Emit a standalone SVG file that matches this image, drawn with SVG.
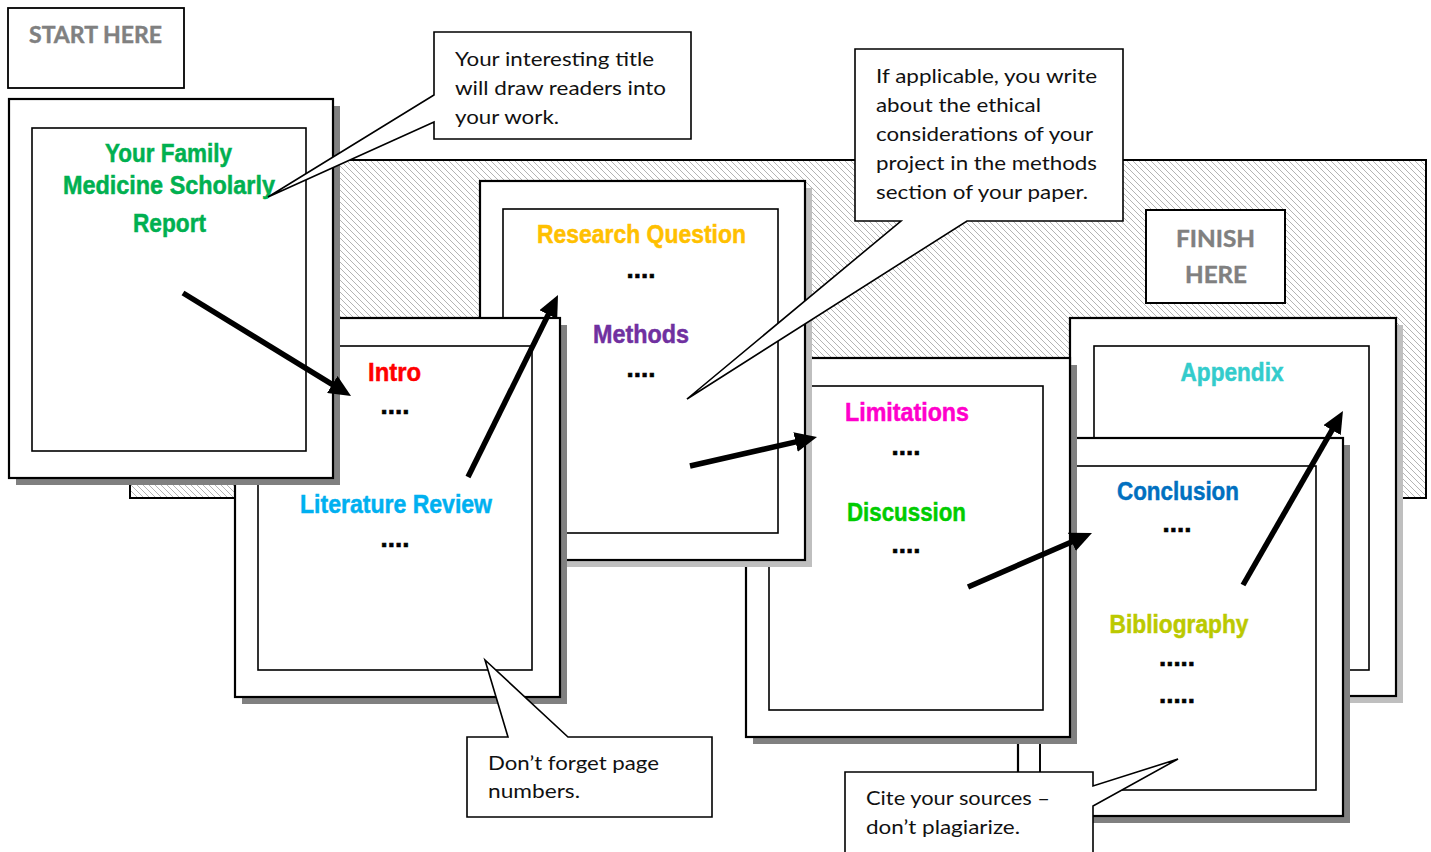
<svg xmlns="http://www.w3.org/2000/svg" width="1431" height="852" viewBox="0 0 1431 852">
<defs>
<pattern id="hatch" width="6" height="6" patternUnits="userSpaceOnUse">
<rect width="6" height="6" fill="#ffffff"/>
<path d="M-1,-1 L7,7 M-1,5 L1,7 M5,-1 L7,1" stroke="#b4b4b4" stroke-width="1"/>
</pattern>
<marker id="ah" markerUnits="userSpaceOnUse" markerWidth="22" markerHeight="20" refX="6" refY="10" orient="auto">
<path d="M0,0 L22,10 L0,20 Z" fill="#000"/>
</marker>
<style>
.outer{fill:#fff;stroke:#000;stroke-width:2.2}
.inner{fill:#fff;stroke:#000;stroke-width:1.6}
.shd{fill:#808080}
.shl{fill:#bfbfbf}
.hd{font-family:"Liberation Sans Narrow","Liberation Sans",sans-serif;font-weight:bold;font-size:26px;text-anchor:middle;fill:currentColor;stroke:currentColor;stroke-width:0.5}
.dots{font-family:"Liberation Sans",sans-serif;font-weight:bold;font-size:26px;text-anchor:middle;fill:#000;stroke:#000;stroke-width:0.6}
.co{fill:#fff;stroke:#000;stroke-width:1.6}
.ct{font-family:Lato,"Liberation Sans",sans-serif;font-size:20px;fill:#111}
.lbl{font-family:Lato,"Liberation Sans",sans-serif;font-weight:bold;font-size:22px;fill:#808080;stroke:#808080;stroke-width:0.4;text-anchor:middle}
.arr{stroke:#000;stroke-width:5.5;fill:none;marker-end:url(#ah)}
.ln{stroke:#000;stroke-width:1.6}
</style>
</defs>
<rect width="1431" height="852" fill="#fff"/>

<g id="background">
<rect x="130" y="160" width="1296" height="338" fill="url(#hatch)" stroke="#000" stroke-width="2"/>
</g>

<g id="start-label">
<rect x="8" y="8" width="176" height="80" fill="#fff" stroke="#000" stroke-width="1.8"/>
<text class="lbl" x="95.5" y="43" textLength="133" lengthAdjust="spacingAndGlyphs">START HERE</text>
</g>

<g id="finish-label">
<rect x="1146" y="210" width="139" height="93" fill="#fff" stroke="#000" stroke-width="2"/>
<text class="lbl" x="1215.5" y="247" textLength="79" lengthAdjust="spacingAndGlyphs">FINISH</text>
<text class="lbl" x="1216" y="283" textLength="62" lengthAdjust="spacingAndGlyphs">HERE</text>
</g>

<g id="appendix-page">
<rect class="shl" x="1077" y="325" width="326" height="378"/>
<rect class="outer" x="1070" y="318" width="326" height="378"/>
<rect class="inner" x="1094" y="346" width="275" height="324"/>
<text class="hd" x="1232" y="381" color="#33CCCC" textLength="103" lengthAdjust="spacingAndGlyphs">Appendix</text>
</g>

<g id="conclusion-page">
<rect class="shd" x="1025" y="445" width="325" height="378"/>
<rect class="outer" x="1018" y="438" width="325" height="378"/>
<rect class="inner" x="1040" y="466" width="276" height="324"/>
<text class="hd" x="1178" y="500" color="#0070C0" textLength="122" lengthAdjust="spacingAndGlyphs">Conclusion</text>
<text class="dots" x="1177" y="532">....</text>
<text class="hd" x="1179" y="633" color="#BBC900" textLength="139" lengthAdjust="spacingAndGlyphs">Bibliography</text>
<text class="dots" x="1177" y="666">.....</text>
<text class="dots" x="1177" y="703">.....</text>
</g>

<g id="limitations-page">
<rect class="shd" x="753" y="365" width="324" height="379"/>
<rect class="outer" x="746" y="358" width="324" height="379"/>
<rect class="inner" x="769" y="386" width="274" height="324"/>
<text class="hd" x="907" y="421" color="#FF00CC" textLength="124" lengthAdjust="spacingAndGlyphs">Limitations</text>
<text class="dots" x="906" y="455">....</text>
<text class="hd" x="906.5" y="521" color="#00CC00" textLength="119" lengthAdjust="spacingAndGlyphs">Discussion</text>
<text class="dots" x="906" y="553">....</text>
</g>

<g id="research-page">
<rect class="shl" x="487" y="188" width="325" height="379"/>
<rect class="outer" x="480" y="181" width="325" height="379"/>
<rect class="inner" x="503" y="209" width="275" height="324"/>
<text class="hd" x="641.5" y="243" color="#FFC000" textLength="209" lengthAdjust="spacingAndGlyphs">Research Question</text>
<text class="dots" x="641" y="278">....</text>
<text class="hd" x="641" y="343" color="#7030A0" textLength="96" lengthAdjust="spacingAndGlyphs">Methods</text>
<text class="dots" x="641" y="377">....</text>
</g>

<g id="literature-page">
<rect class="shd" x="242" y="325" width="325" height="379"/>
<rect class="outer" x="235" y="318" width="325" height="379"/>
<rect class="inner" x="258" y="346" width="274" height="324"/>
<text class="hd" x="394.5" y="381" color="#FF0000" textLength="53" lengthAdjust="spacingAndGlyphs">Intro</text>
<text class="dots" x="395" y="414">....</text>
<text class="hd" x="396" y="513" color="#00B0F0" textLength="192" lengthAdjust="spacingAndGlyphs">Literature Review</text>
<text class="dots" x="395" y="547">....</text>
</g>

<g id="title-page">
<rect class="shd" x="16" y="106" width="324" height="379"/>
<rect class="outer" x="9" y="99" width="324" height="379"/>
<rect class="inner" x="32" y="128" width="274" height="323"/>
<text class="hd" x="168.5" y="162" color="#00B050" textLength="127" lengthAdjust="spacingAndGlyphs">Your Family</text>
<text class="hd" x="169" y="194" color="#00B050" textLength="212" lengthAdjust="spacingAndGlyphs">Medicine Scholarly</text>
<text class="hd" x="169.5" y="232" color="#00B050" textLength="73" lengthAdjust="spacingAndGlyphs">Report</text>
</g>

<g id="edge-lines">
<line class="ln" x1="1018" y1="744" x2="1018" y2="772"/>
<line class="ln" x1="1040" y1="744" x2="1040" y2="772"/>
</g>

<g id="callout-title">
<path class="co" d="M434,32 H691 V139 H434 V122 L268,197 L434,95 Z"/>
<text class="ct" x="455" y="66" textLength="199" lengthAdjust="spacingAndGlyphs">Your interesting title</text>
<text class="ct" x="455" y="95" textLength="211" lengthAdjust="spacingAndGlyphs">will draw readers into</text>
<text class="ct" x="455" y="124" textLength="104" lengthAdjust="spacingAndGlyphs">your work.</text>
</g>

<g id="callout-ethics">
<path class="co" d="M855,49 H1123 V221 H967 L687,399 L901,221 H855 Z"/>
<text class="ct" x="876" y="83" textLength="221" lengthAdjust="spacingAndGlyphs">If applicable, you write</text>
<text class="ct" x="876" y="112" textLength="165" lengthAdjust="spacingAndGlyphs">about the ethical</text>
<text class="ct" x="876" y="141" textLength="217" lengthAdjust="spacingAndGlyphs">considerations of your</text>
<text class="ct" x="876" y="170" textLength="221" lengthAdjust="spacingAndGlyphs">project in the methods</text>
<text class="ct" x="876" y="199" textLength="212" lengthAdjust="spacingAndGlyphs">section of your paper.</text>
</g>

<g id="callout-pages">
<path class="co" d="M467,737 H508 L485,660 L568,737 H712 V817 H467 Z"/>
<text class="ct" x="488" y="770" textLength="171" lengthAdjust="spacingAndGlyphs">Don’t forget page</text>
<text class="ct" x="488" y="798" textLength="92" lengthAdjust="spacingAndGlyphs">numbers.</text>
</g>

<g id="callout-cite">
<path class="co" d="M845,772 H1093 V786 L1178,759 L1093,806 V860 H845 Z"/>
<text class="ct" x="866" y="805" textLength="184" lengthAdjust="spacingAndGlyphs">Cite your sources –</text>
<text class="ct" x="866" y="834" textLength="154" lengthAdjust="spacingAndGlyphs">don’t plagiarize.</text>
</g>

<g id="connectors">
<line class="arr" x1="183" y1="293" x2="337.4" y2="387.6"/>
<line class="arr" x1="468" y1="477" x2="550.9" y2="309.3"/>
<line class="arr" x1="690" y1="466" x2="801.4" y2="440.6"/>
<line class="arr" x1="968" y1="587" x2="1077.3" y2="539.4"/>
<line class="arr" x1="1243" y1="585" x2="1335" y2="424.9"/>
</g>
</svg>
